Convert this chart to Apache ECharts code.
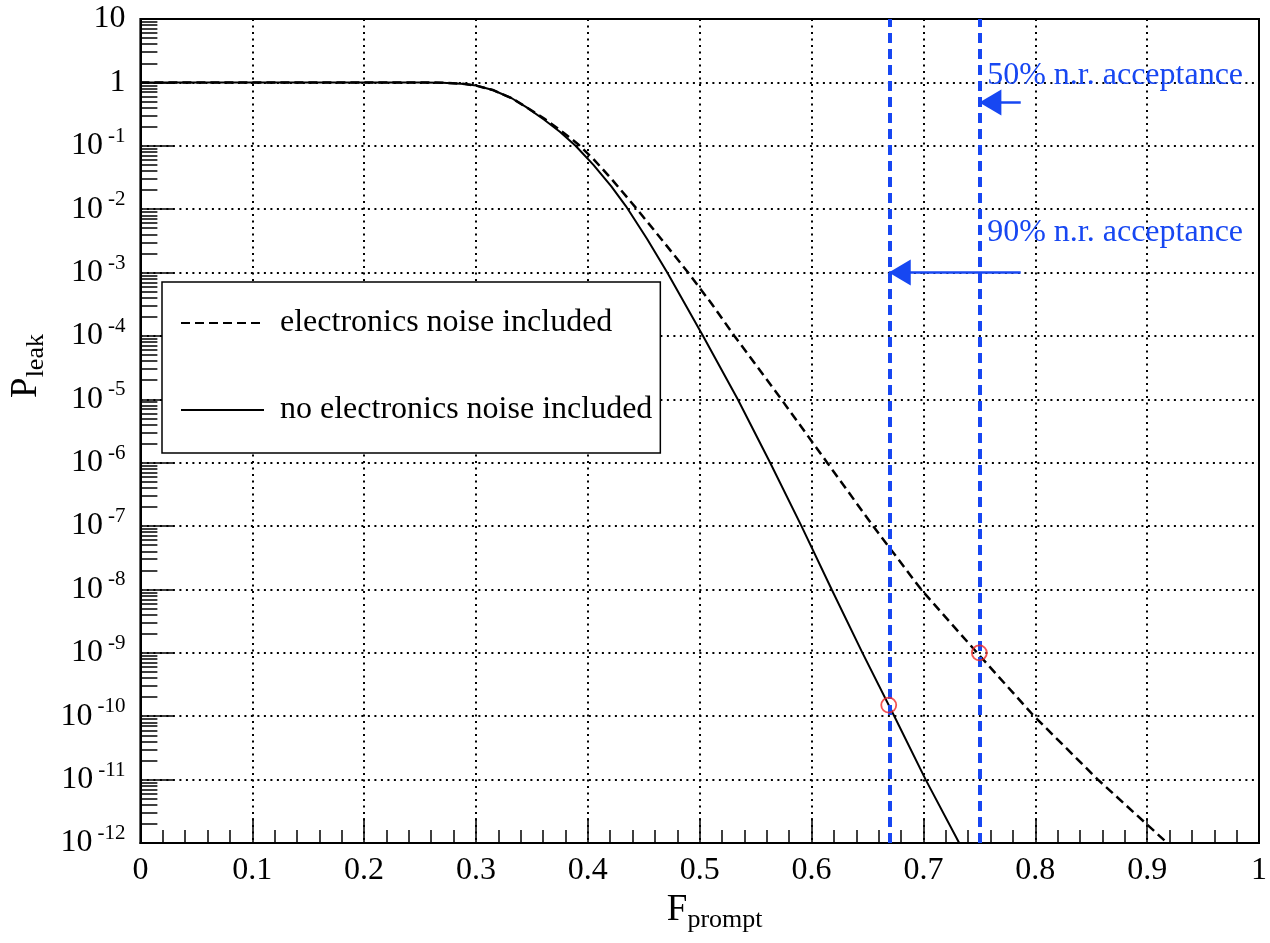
<!DOCTYPE html>
<html>
<head>
<meta charset="utf-8">
<title>P_leak vs F_prompt</title>
<script src="https://cdn.jsdelivr.net/npm/echarts@6/dist/echarts.min.js"></script>
<style>
html,body{margin:0;padding:0;background:#fff;}
#main{width:1270px;height:943px;}
</style>
</head>
<body>
<div id="main"></div>
<script>
// 数据 -- 含电子学噪声 (虚线)
var fpromptNoise = [0, 0.1, 0.2, 0.25, 0.27, 0.29, 0.30, 0.315, 0.332, 0.345, 0.361, 0.375, 0.391, 0.405, 0.421,
                    0.443, 0.467, 0.490, 0.511, 0.531, 0.552, 0.573, 0.614, 0.655, 0.698, 0.748, 0.799, 0.856, 0.918];
var pleakNoise   = [1, 1, 1, 1, 0.99, 0.944, 0.891, 0.759, 0.562, 0.407, 0.269, 0.178, 0.107, 0.0617, 0.0302,
                    0.01047, 3.16e-3, 9.8e-4, 3.16e-4, 1e-4, 3.16e-5, 1e-5, 1e-6, 1e-7, 1e-8, 1e-9, 1e-10, 1e-11, 1e-12];
// 不含电子学噪声 (实线)
var fpromptClean = [0, 0.1, 0.2, 0.25, 0.27, 0.29, 0.30, 0.315, 0.332, 0.345, 0.361, 0.375, 0.389, 0.405, 0.421,
                    0.434, 0.453, 0.471, 0.487, 0.503, 0.534, 0.563, 0.591, 0.618, 0.6455, 0.674, 0.702, 0.732];
var pleakClean   = [1, 1, 1, 1, 0.99, 0.944, 0.891, 0.759, 0.562, 0.407, 0.257, 0.166, 0.1, 0.050, 0.0229,
                    0.0112, 3.39e-3, 1e-3, 3.16e-4, 1e-4, 1e-5, 1e-6, 1e-7, 1e-8, 1e-9, 1e-10, 1e-11, 1e-12];

var cutValues  = [0.669, 0.75];                 // 90% / 50% n.r. acceptance
var cutPoints  = [[0.669, 1.5e-10], [0.75, 1e-9]];
var leakLimit  = 1e-9;
var cutLabels  = ['50% n.r. acceptance', '90% n.r. acceptance'];
var labelPos   = [[0.757, 1.30], [0.757, 4.2e-3]];
var arrowFrom  = [[0.787, 0.48], [0.787, 1e-3]];
var arrowTo    = [[0.75, 0.48], [0.669, 1e-3]];
var decades    = [-12, -11, -10, -9, -8, -7, -6, -5, -4, -3, -2, -1, 0];

var FONT = 'Liberation Serif';
var BLUE = '#1747f2';

function zip(xs, ys){
    var out = [];
    for (var i = 0; i < xs.length; i++) out.push([xs[i], ys[i]]);
    return out;
}

// 对数轴的次刻度 2..9 (以指数表示)
var minorLog = [];
decades.forEach(function(n){
    for (var k = 2; k <= 9; k++) minorLog.push(n + Math.log10(k));
});

var myChart = echarts.init(document.getElementById('main'));

var gridLine = {show: true, lineStyle: {color: '#000', width: 2, type: [2, 4.5]}};

var option = {
    backgroundColor: '#fff',
    animation: false,
    textStyle: {fontFamily: FONT},
    grid: {left: 140, right: 4, top: 19, bottom: 100, show: true, borderColor: '#000', borderWidth: 2},
    legend: {
        data: ['electronics noise included', 'no electronics noise included'],
        orient: 'vertical',
        left: 162,
        top: 282,
        padding: [21, 8, 23, 18],
        itemGap: 47,
        itemWidth: 83,
        itemHeight: 14,
        backgroundColor: '#fff',
        borderColor: '#000',
        borderWidth: 1.5,
        borderRadius: 0,
        selectedMode: false,
        itemStyle: {opacity: 0},
        textStyle: {fontFamily: FONT, fontSize: 32, color: '#000', lineHeight: 40, padding: [0, 0, 0, 11]}
    },
    xAxis: {
        type: 'value', min: 0, max: 1, interval: 0.1,
        name: '{F|F}{s|prompt}',
        nameLocation: 'middle',
        nameGap: 34,
        nameTextStyle: {
            padding: [0, 0, 0, 30],
            rich: {
                F: {fontFamily: FONT, fontSize: 37, color: '#000', lineHeight: 46},
                s: {fontFamily: FONT, fontSize: 26, color: '#000', lineHeight: 26, verticalAlign: 'bottom'}
            }
        },
        axisLine: {onZero: false, lineStyle: {color: '#000', width: 2}},
        axisTick: {inside: true, length: 25, lineStyle: {color: '#000', width: 1.5}},
        minorTick: {show: true, splitNumber: 5, length: 13, lineStyle: {color: '#000', width: 1.5}},
        axisLabel: {color: '#000', fontSize: 32, margin: 12, fontFamily: FONT},
        splitLine: gridLine
    },
    yAxis: [{
        // 数据用的对数轴
        type: 'log', logBase: 10, min: 1e-12, max: 10,
        axisLine: {show: false},
        axisTick: {show: false},
        axisLabel: {show: false},
        splitLine: {show: false}
    }, {
        // 十倍程主刻度、标签、网格 (指数空间)
        type: 'value', min: -12, max: 1, interval: 1, position: 'left',
        name: '{P|P}{s|leak}',
        nameLocation: 'middle',
        nameGap: 88,
        nameTextStyle: {
            padding: [0, 0, 0, 130],
            rich: {
                P: {fontFamily: FONT, fontSize: 37, color: '#000', lineHeight: 46},
                s: {fontFamily: FONT, fontSize: 26, color: '#000', lineHeight: 26, verticalAlign: 'bottom'}
            }
        },
        axisLine: {onZero: false, lineStyle: {color: '#000', width: 2}},
        axisTick: {inside: true, length: 33, lineStyle: {color: '#000', width: 1.5}},
        axisLabel: {
            margin: 15,
            formatter: function(e){
                if (e === 0) return '{b|1}';
                if (e === 1) return '{b|10}';
                return '{b|10}{s|' + e + '}';
            },
            rich: {
                b: {fontFamily: FONT, fontSize: 32, color: '#000', lineHeight: 40},
                s: {fontFamily: FONT, fontSize: 21, color: '#000', lineHeight: 21, verticalAlign: 'top', padding: [0, 0, 0, 5]}
            }
        },
        splitLine: gridLine
    }, {
        // 只画次刻度
        type: 'value', min: -12, max: 1, position: 'left',
        axisLine: {show: false},
        axisLabel: {show: false},
        splitLine: {show: false},
        axisTick: {show: true, inside: true, length: 17, customValues: minorLog, lineStyle: {color: '#000', width: 1.5}}
    }],
    series: [
        {
            name: 'electronics noise included',
            type: 'line',
            data: zip(fpromptNoise, pleakNoise),
            symbol: 'none',
            lineStyle: {color: '#000', width: 2.5, type: [9, 5]},
            itemStyle: {color: '#000'},
            markLine: {
                silent: true, symbol: 'none', label: {show: false},
                lineStyle: {color: BLUE, width: 4, type: [10, 6]},
                data: cutValues.map(function(v){ return {xAxis: v}; })
            }
        },
        {
            name: 'no electronics noise included',
            type: 'line',
            data: zip(fpromptClean, pleakClean),
            symbol: 'none',
            lineStyle: {color: '#000', width: 2},
            itemStyle: {color: '#000'},
            markLine: {
                silent: true, symbol: 'none', label: {show: false},
                lineStyle: {color: '#000', width: 2, type: 'solid'},
                data: [{yAxis: leakLimit}]
            }
        },
        {
            name: 'cut points',
            type: 'scatter',
            data: cutPoints,
            symbol: 'circle',
            symbolSize: 15,
            z: 5,
            itemStyle: {color: 'rgba(0,0,0,0)', borderColor: '#f02828', borderWidth: 1.8},
            markLine: {
                silent: true,
                symbol: ['none', 'triangle'],
                symbolSize: [26, 22],
                symbolOffset: [0, [0, 11]],
                label: {show: false},
                lineStyle: {color: BLUE, width: 2.5, type: 'solid'},
                data: arrowFrom.map(function(p, i){ return [{coord: p}, {coord: arrowTo[i]}]; })
            },
            markPoint: {
                silent: true,
                symbol: 'circle',
                symbolSize: 0,
                label: {show: true, position: 'right', distance: 0, formatter: '{b}', color: BLUE, fontSize: 32, fontFamily: FONT},
                data: labelPos.map(function(p, i){ return {name: cutLabels[i], coord: p}; })
            }
        }
    ]
};

myChart.setOption(option);
</script>
</body>
</html>
